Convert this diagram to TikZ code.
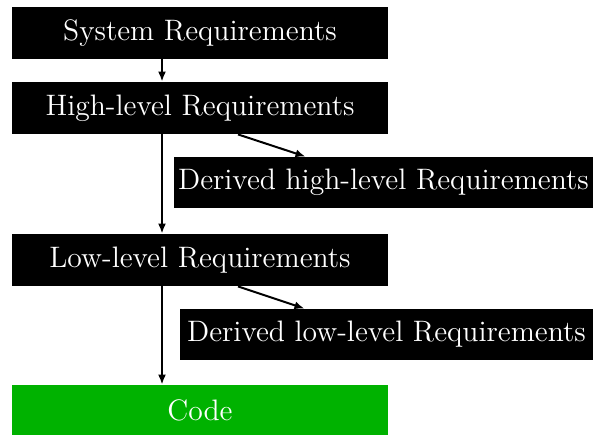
\documentclass[tikz,border=0pt]{standalone}
\usepackage{tikz}
\usetikzlibrary{arrows.meta}
\definecolor{codegreen}{RGB}{0,178,0}

\begin{document}
\begin{tikzpicture}[x=0.5pt, y=-0.5pt, >={Latex[length=5pt,width=4pt]},
    req/.style={shape=rectangle, fill=black, text=white, font=\fontsize{14.8}{18}\selectfont, inner sep=0pt, minimum width=188pt, minimum height=26pt},
    link/.style={->, line width=1pt}]

            \useasboundingbox (0,0) rectangle (595,435);

            \node[req] (sys) at (200,33) {System Requirements};
            \node[req] (hlr) at (200,108) {High-level Requirements};
            \node[req, minimum width=209.5pt, minimum height=25.5pt] (dhlr) at (383.5,182.5) {Derived high-level Requirements};
            \node[req] (llr) at (200,260) {Low-level Requirements};
            \node[req, minimum width=206.5pt, minimum height=25.5pt] (dllr) at (386.5,334.5) {Derived low-level Requirements};
            \node[req, fill=codegreen, minimum height=25pt] (code) at (200,410) {Code};

            \draw[link] ([xshift=-19pt]sys.south) -- ([xshift=-19pt]hlr.north);
            \draw[link] ([xshift=-19pt]hlr.south) -- ([xshift=-19pt]llr.north);
            \draw[link] ([xshift=-19pt]llr.south) -- ([xshift=-19pt]code.north);
            \draw[link] ([xshift=19pt]hlr.south) -- ([xshift=-39pt]dhlr.north);
            \draw[link] ([xshift=19pt]llr.south) -- ([xshift=-41pt]dllr.north);

        \end{tikzpicture}
\end{document}
